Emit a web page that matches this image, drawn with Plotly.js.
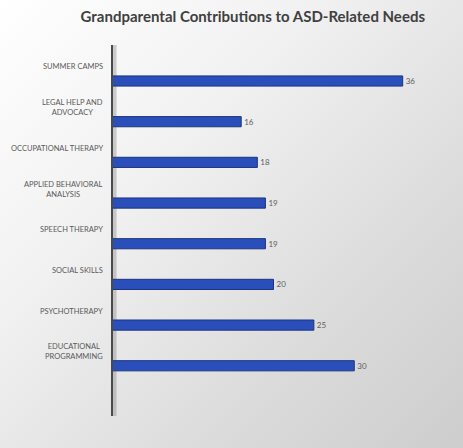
<!DOCTYPE html>
<html>
<head>
<meta charset="utf-8">
<script src="https://cdn.plot.ly/plotly-3.0.1.min.js"></script>
<style>
  html, body { margin: 0; padding: 0; }
  #chart { width: 463px; height: 448px;
    background: linear-gradient(135deg, #ffffff 0%, #f1f1f1 35%, #dcdcdc 70%, #cdcdcd 100%); }
</style>
</head>
<body>
<div id="chart"></div>
<script>
// Data (bottom to top as drawn)
var categories = [
  "EDUCATIONAL<br>PROGRAMMING",
  "PSYCHOTHERAPY",
  "SOCIAL SKILLS",
  "SPEECH THERAPY",
  "APPLIED BEHAVIORAL<br>ANALYSIS",
  "OCCUPATIONAL THERAPY",
  "LEGAL HELP AND<br>ADVOCACY",
  "SUMMER CAMPS"
];
var values = [30, 25, 20, 19, 19, 18, 16, 36];
var titleText = "Grandparental Contributions to ASD-Related Needs";

var positions = categories.map(function (c, i) { return i; });
var labelOffset = 0.345;

var trace = {
  type: 'bar',
  orientation: 'h',
  x: values,
  y: positions,
  width: 0.25,
  marker: { color: '#2b4fba', line: { color: '#1a347f', width: 1 } },
  text: values.map(String),
  textposition: 'outside',
  textfont: { family: 'Lato, Carlito, sans-serif', size: 8, color: '#606060' },
  cliponaxis: false,
  hoverinfo: 'none'
};

var annotations = categories.map(function (c, i) {
  return {
    xref: 'paper', yref: 'y',
    x: -0.021, y: positions[i] + labelOffset,
    xanchor: 'right', yanchor: 'middle', align: 'center',
    text: c, showarrow: false,
    font: { family: 'Lato, Carlito, sans-serif', size: 7.5, color: '#595959' }
  };
});

var layout = {
  width: 463, height: 448,
  paper_bgcolor: 'rgba(0,0,0,0)',
  plot_bgcolor: 'rgba(0,0,0,0)',
  margin: { l: 112, r: 28, t: 45, b: 32 },
  title: {
    text: '<b>' + titleText + '</b>',
    font: { family: 'Lato, Carlito, sans-serif', size: 15, color: '#404040' },
    x: 0.546, xanchor: 'center', y: 0.962, yanchor: 'middle'
  },
  xaxis: {
    range: [0, 40], showgrid: false, zeroline: false,
    showticklabels: false, showline: false, ticks: ''
  },
  yaxis: {
    range: [-1.235, 7.885], showgrid: false, zeroline: false,
    showticklabels: false, ticks: '', showline: false
  },
  shapes: [
    { type: 'rect', xref: 'paper', yref: 'paper', x0: 0.003, x1: 0.014, y0: 0, y1: 1,
      fillcolor: 'rgba(120,120,120,0.35)', line: { width: 0 }, layer: 'below' },
    { type: 'line', xref: 'paper', yref: 'paper', x0: 0, x1: 0, y0: 0, y1: 1,
      line: { color: '#4a4a4a', width: 2 } }
  ],
  annotations: annotations,
  showlegend: false
};

Plotly.newPlot('chart', [trace], layout, { displayModeBar: false, staticPlot: true });
</script>
</body>
</html>
